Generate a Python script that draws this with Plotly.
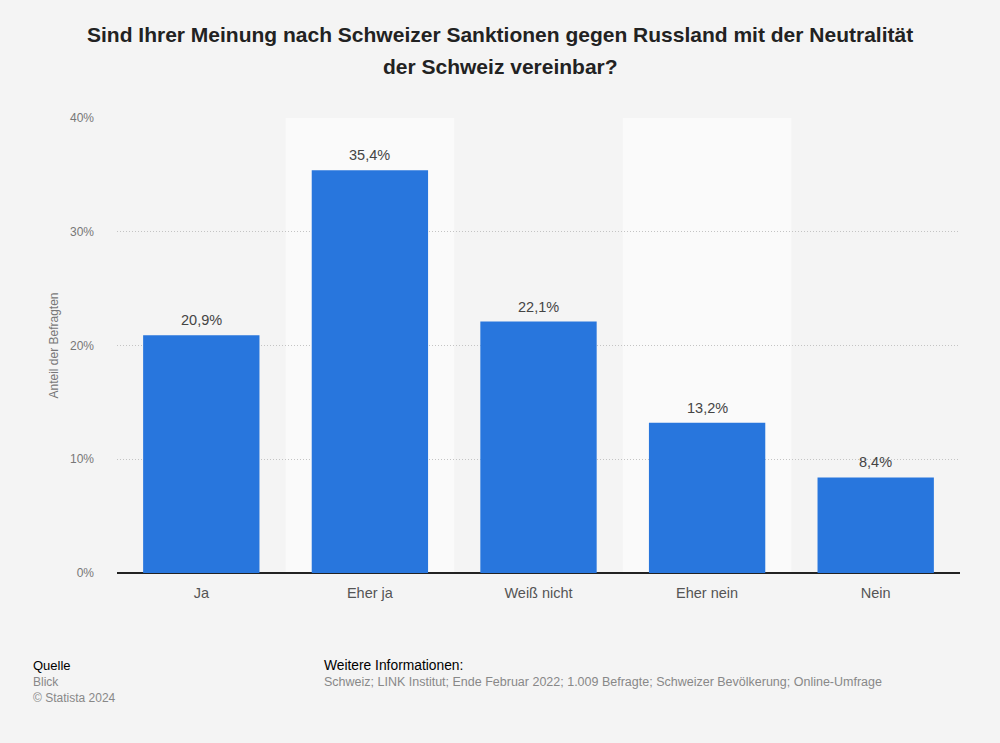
import plotly.graph_objects as go

categories = ["Ja", "Eher ja", "Weiß nicht", "Eher nein", "Nein"]
values = [20.9, 35.4, 22.1, 13.2, 8.4]
labels = ["20,9%", "35,4%", "22,1%", "13,2%", "8,4%"]
y_ticks = [0, 10, 20, 30, 40]
y_tick_labels = ["0%", "10%", "20%", "30%", "40%"]
title_lines = [
    "Sind Ihrer Meinung nach Schweizer Sanktionen gegen Russland mit der Neutralität",
    "der Schweiz vereinbar?",
]

FONT = "Liberation Sans, Arial, sans-serif"
W, H = 1000, 743
pl, pr, pt, pb = 117, 40, 118, 170
pw, ph = W - pl - pr, H - pt - pb


def px(x):
    return (x - pl) / pw


def py(y):
    return (H - pb - y) / ph


fig = go.Figure()
fig.add_trace(go.Bar(
    x=categories, y=values,
    marker=dict(color="#2876dd", line=dict(width=0)),
    width=0.69, hoverinfo="skip",
))

shapes = []
for i in range(len(categories)):
    if i % 2 == 1:
        shapes.append(dict(type="rect", xref="x", yref="paper", x0=i - 0.5, x1=i + 0.5,
                           y0=0, y1=1, fillcolor="#fafafa", line=dict(width=0), layer="below"))

fig.update_layout(
    width=W, height=H,
    paper_bgcolor="#f4f4f4", plot_bgcolor="#f4f4f4",
    margin=dict(l=pl, r=pr, t=pt, b=pb),
    shapes=shapes,
    showlegend=False,
    font=dict(family=FONT),
    xaxis=dict(
        tickfont=dict(size=14.5, color="#555555", family=FONT),
        showgrid=False, showline=False, ticks="", range=[-0.5, len(categories) - 0.5],
        ticklabelstandoff=9,
    ),
    yaxis=dict(
        range=[0, 40], tickvals=y_ticks, ticktext=y_tick_labels,
        tickfont=dict(size=12, color="#777777", family=FONT),
        showgrid=True, gridcolor="#c4c4c4", griddash="1px,2px", gridwidth=1,
        zeroline=True, zerolinecolor="#222222", zerolinewidth=1.5,
        ticks="", ticklabelstandoff=22,
        title=dict(text="Anteil der Befragten", font=dict(size=12, color="#777777", family=FONT), standoff=8),
    ),
)

# bar value labels
for cat, val, lab in zip(categories, values, labels):
    fig.add_annotation(x=cat, y=val, text=lab, showarrow=False, xref="x", yref="y",
                       yanchor="bottom", yshift=5,
                       font=dict(size=14.5, color="#444444", family=FONT))

# title lines
for i, line in enumerate(title_lines):
    fig.add_annotation(text="<b>" + line + "</b>", x=px(500), xref="paper", xanchor="center",
                       y=py(34 + 32.5 * i), yref="paper", yanchor="middle", showarrow=False,
                       font=dict(size=21, color="#222222", family=FONT))

footer = [
    ("Quelle", 31, 665, 13, "#000000"),
    ("Blick", 31, 682, 12, "#888888"),
    ("© Statista 2024", 31, 698, 12, "#888888"),
    ("Weitere Informationen:", 322, 665, 13.8, "#000000"),
    ("Schweiz; LINK Institut; Ende Februar 2022; 1.009 Befragte; Schweizer Bevölkerung; Online-Umfrage", 322, 682, 12.5, "#888888"),
]
for text, x, y, size, color in footer:
    fig.add_annotation(text=text, x=px(x), y=py(y), xref="paper", yref="paper",
                       xanchor="left", yanchor="middle", showarrow=False,
                       font=dict(size=size, color=color, family=FONT))

fig.write_html("out.html", config={"displayModeBar": False},
               post_script="document.body.style.margin='0';document.body.style.background='#f4f4f4';")
